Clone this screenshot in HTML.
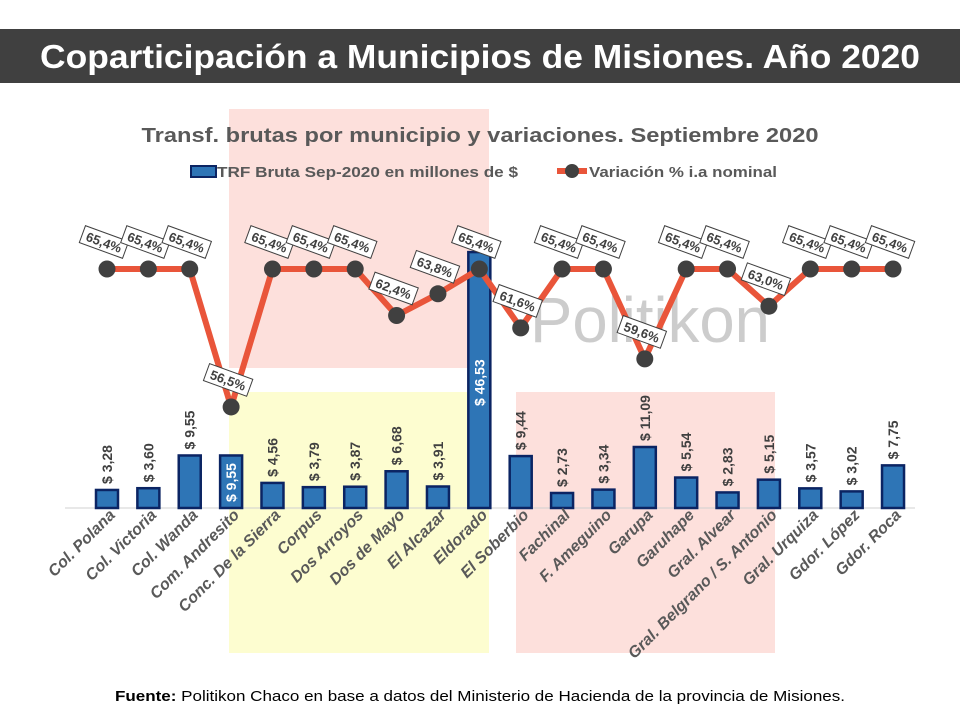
<!DOCTYPE html>
<html><head><meta charset="utf-8"><style>
body{margin:0;background:#fff}
svg{display:block}
text{font-family:"Liberation Sans",sans-serif}
</style></head><body>
<svg width="960" height="720" viewBox="0 0 960 720" xmlns="http://www.w3.org/2000/svg">
<rect x="0" y="0" width="960" height="720" fill="#fff"/>
<rect x="0" y="29" width="960" height="54" fill="#404040"/>
<text x="480" y="68" text-anchor="middle" fill="#fff" font-size="33" font-weight="bold" textLength="880" lengthAdjust="spacingAndGlyphs">Coparticipación a Municipios de Misiones. Año 2020</text>
<rect x="229" y="109" width="260" height="259" fill="#fde0dc"/>
<rect x="229" y="392" width="260" height="261" fill="#fdfdd0"/>
<rect x="516" y="392" width="259" height="261" fill="#fde0dc"/>
<text x="480" y="142" text-anchor="middle" fill="#595959" font-size="20" font-weight="bold" textLength="677" lengthAdjust="spacingAndGlyphs">Transf. brutas por municipio y variaciones. Septiembre 2020</text>
<rect x="191" y="166" width="25" height="11" fill="#2e75b6" stroke="#0b2463" stroke-width="2"/>
<text x="217" y="177" fill="#595959" font-size="15" font-weight="bold" textLength="301" lengthAdjust="spacingAndGlyphs">TRF Bruta Sep-2020 en millones de $</text>
<line x1="557" y1="171" x2="587" y2="171" stroke="#e9553a" stroke-width="6"/>
<circle cx="572" cy="171" r="7" fill="#404040"/>
<text x="589" y="177" fill="#595959" font-size="15" font-weight="bold" textLength="188" lengthAdjust="spacingAndGlyphs">Variación % i.a nominal</text>
<text x="650" y="342" text-anchor="middle" fill="#c4c4c4" opacity="0.85" font-size="64" textLength="240" lengthAdjust="spacingAndGlyphs">Politikon</text>
<line x1="65" y1="508" x2="915" y2="508" stroke="#d0d0d0" stroke-width="1"/>
<g id="bars" fill="#2e75b6" stroke="#0b2463" stroke-width="2.5"></g>
<g id="line"></g>
<g id="cats"></g>
<text x="480" y="701" text-anchor="middle" fill="#000" font-size="15" textLength="730" lengthAdjust="spacingAndGlyphs"><tspan font-weight="bold">Fuente:</tspan> Politikon Chaco en base a datos del Ministerio de Hacienda de la provincia de Misiones.</text>
</svg>
<script>
var ns="http://www.w3.org/2000/svg";
var names=["Col. Polana","Col. Victoria","Col. Wanda","Com. Andresito","Conc. De la Sierra","Corpus","Dos Arroyos","Dos de Mayo","El Alcazar","Eldorado","El Soberbio","Fachinal","F. Ameguino","Garupa","Garuhape","Gral. Alvear","Gral. Belgrano / S. Antonio","Gral. Urquiza","Gdor. López","Gdor. Roca"];
var vals=[3.28,3.60,9.55,9.55,4.56,3.79,3.87,6.68,3.91,46.53,9.44,2.73,3.34,11.09,5.54,2.83,5.15,3.57,3.02,7.75];
var pct=[65.4,65.4,65.4,56.5,65.4,65.4,65.4,62.4,63.8,65.4,61.6,65.4,65.4,59.6,65.4,65.4,63.0,65.4,65.4,65.4];
function el(t,a,p,txt){var e=document.createElementNS(ns,t);for(var k in a)e.setAttribute(k,a[k]);if(txt!=null)e.textContent=txt;p.appendChild(e);return e;}
var svg=document.querySelector("svg"),bars=document.getElementById("bars"),line=document.getElementById("line"),cats=document.getElementById("cats");
var pts=[];
for(var i=0;i<20;i++){
 var c=107+i*41.37,h=vals[i]*5.5;
 el("rect",{x:c-11,y:508-h,width:22,height:h},bars);
 var s="$ "+vals[i].toFixed(2).replace(".",",");
 if(i==3){el("text",{x:0,y:0,transform:"translate("+(c+5)+",502) rotate(-90)",fill:"#fff","font-size":"14","font-weight":"bold"},svg,s);}
 else if(i==9){el("text",{x:0,y:0,transform:"translate("+(c+5)+",406) rotate(-90)",fill:"#fff","font-size":"14","font-weight":"bold"},svg,s);}
 else el("text",{x:0,y:0,transform:"translate("+(c+5)+","+(508-h-6)+") rotate(-90)",fill:"#404040","font-size":"14","font-weight":"bold"},svg,s);
 pts.push([c,269+(65.4-pct[i])*15.5]);
 el("text",{x:0,y:0,transform:"translate("+(c+9)+",516) rotate(-45)","text-anchor":"end",fill:"#595959","font-size":"16","font-weight":"bold","font-style":"italic"},cats,names[i]);
}
el("polyline",{points:pts.map(function(p){return p.join(",")}).join(" "),fill:"none",stroke:"#e9553a","stroke-width":"6","stroke-linejoin":"round"},line);
for(var i=0;i<20;i++){
 el("circle",{cx:pts[i][0],cy:pts[i][1],r:8.5,fill:"#404040"},line);
}
for(var i=0;i<20;i++){
 var g=el("g",{transform:"translate("+(pts[i][0]-3)+","+(pts[i][1]-27)+") rotate(20)"},line);
 el("rect",{x:-23,y:-9,width:46,height:18,fill:"#fff",stroke:"#404040","stroke-width":"1"},g);
 el("text",{x:0,y:5,"text-anchor":"middle",fill:"#404040","font-size":"13","font-weight":"bold"},g,pct[i].toFixed(1).replace(".",",")+"%");
}
</script>
</body></html>
